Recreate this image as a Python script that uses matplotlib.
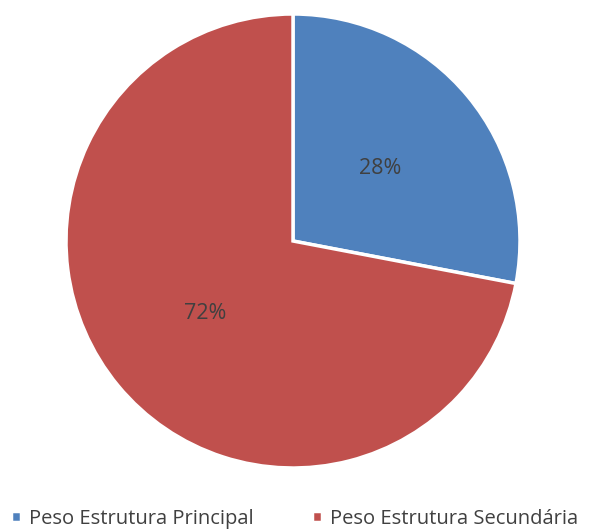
import matplotlib
matplotlib.use("Agg")
import matplotlib.pyplot as plt

plt.rcParams['font.family'] = ['Open Sans', 'DejaVu Sans']

labels = ["Peso Estrutura Principal", "Peso Estrutura Secundária"]
values = [28, 72]
colors = ["#4F81BD", "#C0504D"]

fig = plt.figure(figsize=(5.9, 5.3), dpi=100)
ax = fig.add_axes([66 / 590, 62 / 530, 454 / 590, 454 / 530])

wedges, texts, autotexts = ax.pie(
    values, colors=colors, startangle=90, counterclock=False,
    autopct="%1.0f%%", pctdistance=0.5, radius=1.0,
    wedgeprops={"edgecolor": "white", "linewidth": 2.5},
    textprops={"fontsize": 15.5, "color": "#404040"})
ax.set_xlim(-1.0, 1.0)
ax.set_ylim(-1.0, 1.0)
ax.set_aspect("equal")

fig.legend(wedges, labels, loc="lower left", bbox_to_anchor=(-0.012, -0.032),
           ncol=2, frameon=False, fontsize=14.5, handlelength=0.5,
           handleheight=0.5, handletextpad=0.4, columnspacing=2.9,
           labelcolor="#404040")

fig.savefig("out.png", dpi=100)
